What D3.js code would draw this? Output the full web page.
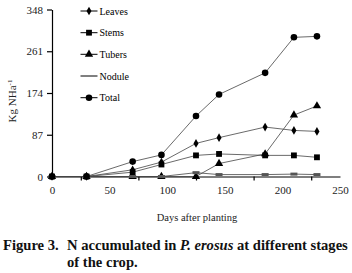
<!DOCTYPE html>
<html>
<head>
<meta charset="utf-8">
<script src="https://cdn.jsdelivr.net/npm/d3@7"></script>
<style>
  body { margin: 0; background: #fff; }
  svg { display: block; }
  svg text { font-family: "Liberation Serif", "Times New Roman", serif; }
</style>
</head>
<body>
<svg id="chart" width="352" height="273"></svg>
<script>
// data
const days = [0, 30, 70, 95, 125, 145, 185, 210, 230];
const leaves = [0, 0, 14, 30, 69, 81, 103, 96, 94];
const stems = [0, 0, 9, 25, 44, 47, 44, 44, 40];
const tubers = [0, 0, 0, 0, 0, 27, 47, 128, 147];
const nodule = [0, 0, 0, 0, 8, 4, 4, 5, 4];
const total = [0, 0, 31, 45, 126, 171, 216, 290, 292];
const yTicks = [0, 87, 174, 261, 348];
const xTicks = [0, 50, 100, 150, 200, 250];
const xMinor = [25, 75, 125, 175, 225];

const series = [
  { name: "Leaves", values: leaves, marker: "diamond" },
  { name: "Stems", values: stems, marker: "square" },
  { name: "Tubers", values: tubers, marker: "triangle" },
  { name: "Nodule", values: nodule, marker: "dash" },
  { name: "Total", values: total, marker: "circle" }
];

const svg = d3.select("#chart");
const x = d3.scaleLinear().domain([0, 250]).range([52, 340]);
const y = d3.scaleLinear().domain([0, 348]).range([176.5, 9.5]);

// axes
const yAxis = svg.append("g")
  .attr("transform", `translate(${x(0)},0)`)
  .call(d3.axisLeft(y).tickValues(yTicks).tickSize(5).tickPadding(4).tickSizeOuter(0));
yAxis.attr("font-family", null);
yAxis.selectAll("text").attr("font-size", 11).attr("fill", "#222");

const xAxis = svg.append("g")
  .attr("transform", `translate(0,${y(0)})`)
  .call(d3.axisBottom(x).tickValues(xTicks).tickSize(0).tickPadding(10).tickSizeOuter(0));
xAxis.attr("font-family", null);
xAxis.selectAll("text").attr("font-size", 11).attr("fill", "#222");

svg.append("g")
  .attr("transform", `translate(0,${y(0)})`)
  .call(d3.axisBottom(x).tickValues(xMinor).tickSize(4).tickFormat("").tickSizeOuter(0))
  .select(".domain").remove();

svg.selectAll(".domain, .tick line").attr("stroke", "#000").attr("stroke-width", 1.2);

// markers
const symbolFor = {
  diamond: d3.symbol().type(d3.symbolDiamond).size(22),
  square: d3.symbol().type(d3.symbolSquare).size(34),
  triangle: d3.symbol().type(d3.symbolTriangle).size(30),
  circle: d3.symbol().type(d3.symbolCircle).size(34)
};

function drawMarker(g, kind, cx, cy) {
  if (kind === "dash") {
    g.append("rect").attr("x", cx - 3.5).attr("y", cy - 1.5).attr("width", 7).attr("height", 3).attr("fill", "#555");
  } else {
    g.append("path").attr("d", symbolFor[kind]()).attr("transform", `translate(${cx},${cy})`).attr("fill", "#000");
  }
}

const line = d3.line().x((d, i) => x(days[i])).y(d => y(d));

series.forEach(s => {
  const g = svg.append("g");
  g.append("path")
    .attr("d", line(s.values))
    .attr("fill", "none")
    .attr("stroke", "#444")
    .attr("stroke-width", 0.8);
  s.values.forEach((v, i) => drawMarker(g, s.marker, x(days[i]), y(v)));
});

// legend
const legendY = [11, 32.7, 54.3, 76, 97.7];
series.forEach((s, i) => {
  const g = svg.append("g");
  g.append("line").attr("x1", 80.5).attr("x2", 97.5).attr("y1", legendY[i]).attr("y2", legendY[i])
    .attr("stroke", "#000").attr("stroke-width", 1);
  if (s.marker !== "dash") drawMarker(g, s.marker, 89, legendY[i]); // nodule shows only the line
  g.append("text").attr("x", 99.5).attr("y", legendY[i]).attr("dy", "0.35em")
    .attr("font-size", 10).attr("fill", "#000").text(s.name);
});

// axis titles
const yt = svg.append("text")
  .attr("transform", "translate(16,101) rotate(-90)")
  .attr("text-anchor", "middle").attr("font-size", 11).attr("fill", "#222");
yt.append("tspan").text("Kg NHa");
yt.append("tspan").attr("dy", -4).attr("font-size", 7).text("-1");

svg.append("text").attr("x", 197).attr("y", 221).attr("text-anchor", "middle")
  .attr("font-size", 10.5).attr("fill", "#222").text("Days after planting");

// caption
const cap = svg.append("text").attr("x", 3).attr("y", 250)
  .attr("font-size", 14.6).attr("font-weight", "bold").attr("fill", "#111");
cap.append("tspan").text("Figure 3.");
cap.append("tspan").attr("x", 67).text("N accumulated in ");
cap.append("tspan").attr("font-style", "italic").text("P. erosus");
cap.append("tspan").text(" at different stages");
svg.append("text").attr("x", 67).attr("y", 267)
  .attr("font-size", 14.6).attr("font-weight", "bold").attr("fill", "#111").text("of the crop.");
</script>
</body>
</html>
